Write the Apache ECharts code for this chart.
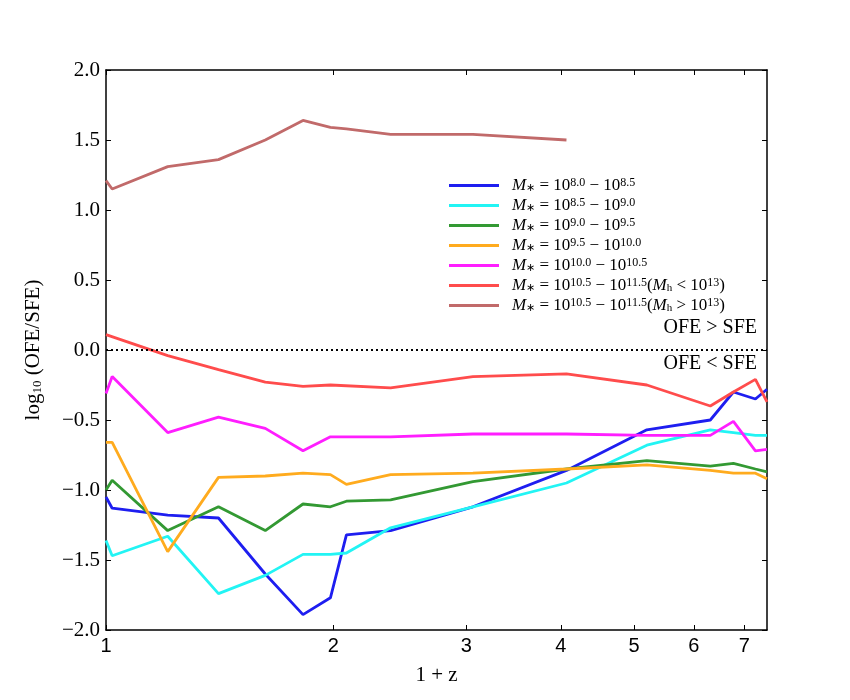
<!DOCTYPE html>
<html>
<head>
<meta charset="utf-8">
<script src="https://cdn.jsdelivr.net/npm/echarts@6/dist/echarts.min.js"></script>
<style>
html, body { margin: 0; padding: 0; background: #ffffff; }
#chart { width: 850px; height: 700px; }
</style>
</head>
<body>
<div id="chart"></div>
<script>
// 1+z sample points
var zAll = [1.0, 1.019, 1.207, 1.409, 1.625, 1.823, 1.982, 2.081, 2.381, 3.06, 4.07, 5.2, 6.31, 6.77, 7.24, 7.5];
var zRed = [1.0, 1.207, 1.409, 1.625, 1.823, 1.982, 2.381, 3.06, 4.07, 5.2, 6.31, 6.77, 7.24, 7.5];
var zBrown = [1.0, 1.019, 1.207, 1.409, 1.625, 1.823, 1.982, 2.081, 2.381, 3.06, 4.07];

// log10(OFE/SFE)
var blueVal = [-1.05, -1.13, -1.18, -1.20, -1.60, -1.89, -1.77, -1.32, -1.29, -1.12, -0.86, -0.57, -0.50, -0.30, -0.35, -0.28];
var cyanVal = [-1.36, -1.47, -1.33, -1.74, -1.61, -1.46, -1.46, -1.45, -1.27, -1.12, -0.95, -0.68, -0.57, -0.59, -0.61, -0.61];
var greenVal = [-1.00, -0.93, -1.29, -1.12, -1.29, -1.10, -1.12, -1.08, -1.07, -0.94, -0.85, -0.79, -0.83, -0.81, -0.85, -0.87];
var orangeVal = [-0.66, -0.66, -1.44, -0.91, -0.90, -0.88, -0.89, -0.96, -0.89, -0.88, -0.85, -0.82, -0.86, -0.88, -0.88, -0.92];
var magentaVal = [-0.31, -0.19, -0.59, -0.48, -0.56, -0.72, -0.62, -0.62, -0.62, -0.60, -0.60, -0.61, -0.61, -0.51, -0.72, -0.71];
var redVal = [0.11, -0.04, -0.14, -0.23, -0.26, -0.25, -0.27, -0.19, -0.17, -0.25, -0.40, -0.30, -0.21, -0.37];
var brownVal = [1.21, 1.15, 1.31, 1.36, 1.50, 1.64, 1.59, 1.58, 1.54, 1.54, 1.50];

var xTicks = [1, 2, 3, 4, 5, 6, 7];
var xMax = 7.5;

var seriesNames = ['m80', 'm85', 'm90', 'm95', 'm100', 'm105lo', 'm105hi'];
var legendLabels = [
  '{i|M}{sb|∗} = 10{sp|8.0} − 10{sp|8.5}',
  '{i|M}{sb|∗} = 10{sp|8.5} − 10{sp|9.0}',
  '{i|M}{sb|∗} = 10{sp|9.0} − 10{sp|9.5}',
  '{i|M}{sb|∗} = 10{sp|9.5} − 10{sp|10.0}',
  '{i|M}{sb|∗} = 10{sp|10.0} − 10{sp|10.5}',
  '{i|M}{sb|∗} = 10{sp|10.5} − 10{sp|11.5}({i|M}{sb|h} < 10{sp|13})',
  '{i|M}{sb|∗} = 10{sp|10.5} − 10{sp|11.5}({i|M}{sb|h} > 10{sp|13})'
];
var colors = ['#1e1ef0', '#22f4f4', '#339933', '#ffab1e', '#ff1eff', '#ff4c4c', '#c16a6a'];

function pairs(zs, vals) {
  var out = [];
  for (var i = 0; i < zs.length; i++) {
    out.push([Math.log10(zs[i]), vals[i]]);
  }
  return out;
}

var allData = [
  pairs(zAll, blueVal),
  pairs(zAll, cyanVal),
  pairs(zAll, greenVal),
  pairs(zAll, orangeVal),
  pairs(zAll, magentaVal),
  pairs(zRed, redVal),
  pairs(zBrown, brownVal)
];

var serif = 'Liberation Serif';
var logTicks = xTicks.map(function (v) { return Math.log10(v); });

var series = allData.map(function (d, i) {
  return {
    name: seriesNames[i],
    type: 'line',
    data: d,
    symbol: 'none',
    clip: true,
    lineStyle: { color: colors[i], width: 2.8 },
    itemStyle: { color: colors[i] }
  };
});
// dotted zero line
series[0].markLine = {
  silent: true,
  symbol: 'none',
  label: { show: false },
  lineStyle: { color: '#000', type: [2, 3], width: 2 },
  data: [{ yAxis: 0 }]
};

var myChart = echarts.init(document.getElementById('chart'));
myChart.setOption({
  animation: false,
  backgroundColor: '#ffffff',
  grid: { left: 106, right: 83, top: 70, bottom: 70 },
  legend: {
    orient: 'vertical',
    left: 444,
    top: 172,
    itemWidth: 50,
    itemHeight: 14,
    itemGap: 3,
    data: seriesNames.map(function (n, i) {
      return { name: n, itemStyle: { color: colors[i] }, icon: 'path://M0,0 L50,0 L50,3 L0,3 Z' };
    }),
    formatter: function (name) {
      return legendLabels[seriesNames.indexOf(name)];
    },
    textStyle: {
      fontFamily: serif,
      fontSize: 17,
      color: '#000',
      padding: [0, 0, 0, 8],
      rich: {
        i: { fontFamily: serif, fontStyle: 'italic', fontSize: 17, color: '#000' },
        sb: { fontFamily: serif, fontSize: 11, color: '#000', verticalAlign: 'bottom', lineHeight: 10, padding: [6, 0, 0, 0] },
        sp: { fontFamily: serif, fontSize: 12, color: '#000', verticalAlign: 'top', lineHeight: 11 }
      }
    }
  },
  xAxis: [{
    type: 'value',
    min: 0,
    max: Math.log10(xMax),
    name: '1 + z',
    nameLocation: 'middle',
    nameGap: 35,
    nameTextStyle: { fontFamily: serif, fontSize: 21, color: '#000' },
    axisLine: { onZero: false, lineStyle: { color: '#000', width: 1.5 } },
    axisTick: { inside: true, length: 5, customValues: logTicks, lineStyle: { color: '#000' } },
    axisLabel: {
      customValues: logTicks,
      fontFamily: 'Liberation Sans',
      fontSize: 20,
      color: '#000',
      margin: 6,
      formatter: function (v) { return String(Math.round(Math.pow(10, v))); }
    },
    splitLine: { show: false }
  }, {
    type: 'value',
    position: 'top',
    min: 0,
    max: Math.log10(xMax),
    axisLine: { show: true, onZero: false, lineStyle: { color: '#000', width: 1.5 } },
    axisTick: { inside: true, length: 5, customValues: logTicks, lineStyle: { color: '#000' } },
    axisLabel: { show: false },
    splitLine: { show: false }
  }],
  yAxis: [{
    type: 'value',
    min: -2.0,
    max: 2.0,
    interval: 0.5,
    name: 'log{sb|10} (OFE/SFE)',
    nameLocation: 'middle',
    nameGap: 62,
    nameTextStyle: {
      fontFamily: serif, fontSize: 21, color: '#000',
      rich: { sb: { fontFamily: serif, fontSize: 13, color: '#000', padding: [8, 0, 0, 0] } }
    },
    axisLine: { onZero: false, lineStyle: { color: '#000', width: 1.5 } },
    axisTick: { inside: true, length: 5, lineStyle: { color: '#000' } },
    axisLabel: {
      fontFamily: serif,
      fontSize: 21,
      color: '#000',
      margin: 6,
      formatter: function (v) { return v.toFixed(1).replace('-', '−'); }
    },
    splitLine: { show: false }
  }, {
    type: 'value',
    position: 'right',
    min: -2.0,
    max: 2.0,
    interval: 0.5,
    axisLine: { show: true, onZero: false, lineStyle: { color: '#000', width: 1.5 } },
    axisTick: { inside: true, length: 5, lineStyle: { color: '#000' } },
    axisLabel: { show: false },
    splitLine: { show: false }
  }],
  graphic: [
    { type: 'text', right: 93, top: 318, style: { text: 'OFE > SFE', font: '20px "Liberation Serif"', fill: '#000' } },
    { type: 'text', right: 93, top: 354, style: { text: 'OFE < SFE', font: '20px "Liberation Serif"', fill: '#000' } }
  ],
  series: series
});
</script>
</body>
</html>
